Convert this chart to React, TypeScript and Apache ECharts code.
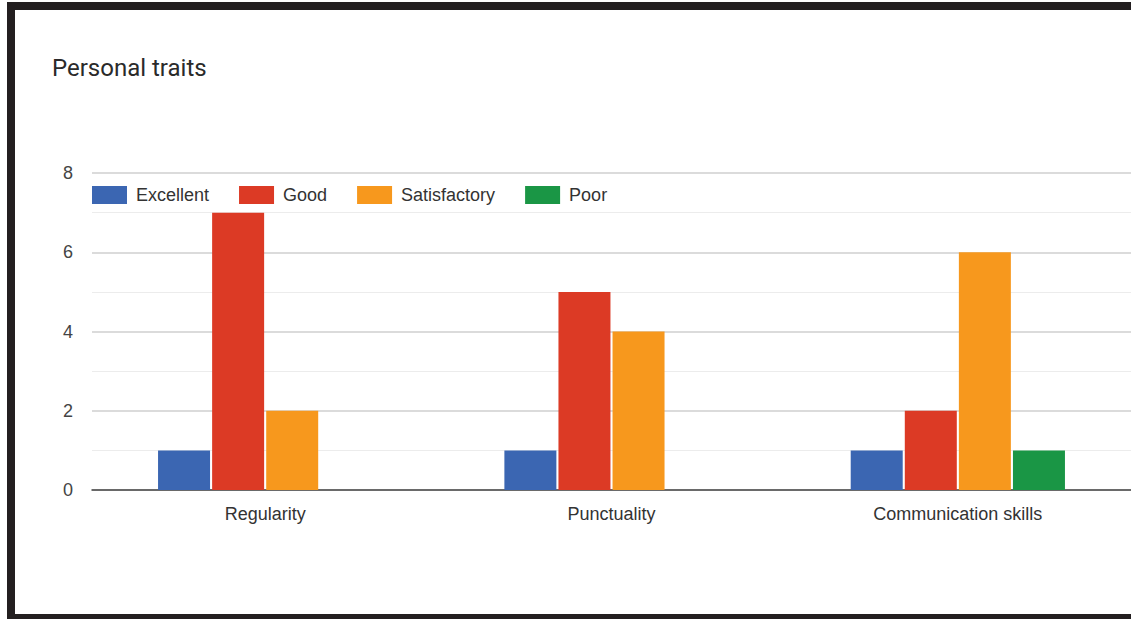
import React, { useEffect, useRef } from "react";
import * as echarts from "echarts";

const categories = ["Regularity", "Punctuality", "Communication skills"];
const seriesNames = ["Excellent", "Good", "Satisfactory", "Poor"];
const excellent = [1, 1, 1];
const good = [7, 5, 2];
const satisfactory = [2, 4, 6];
const poor = [0, 0, 1];
const colors = ["#3b66b2", "#dc3a25", "#f7981d", "#1a9645"];
const titleText = "Personal traits";

export default function App() {
  const ref = useRef<HTMLDivElement>(null);
  useEffect(() => {
    document.body.style.margin = "0";
    const chart = echarts.init(ref.current!, null, { renderer: "svg" });
    const values = [excellent, good, satisfactory, poor];
    const titleFont = "Roboto, 'Noto Sans', sans-serif";
    const font = "'Liberation Sans', Arial, sans-serif";
    chart.setOption({
      animation: false,
      backgroundColor: "#ffffff",
      color: colors,
      title: {
        text: titleText,
        left: 52,
        top: 56,
        padding: 0,
        textStyle: { fontFamily: titleFont, fontSize: 24, fontWeight: "normal", color: "#2a2a2a" },
      },
      legend: {
        left: 92,
        top: 186,
        padding: 0,
        itemWidth: 35,
        itemHeight: 18,
        itemGap: 30,
        icon: "rect",
        data: seriesNames,
        textStyle: { fontFamily: font, fontSize: 18, color: "#333", padding: [0, 0, 0, 4] },
      },
      grid: { left: 92, right: 0, top: 173, bottom: 129, containLabel: false },
      xAxis: {
        type: "category",
        data: categories,
        axisTick: { show: false },
        axisLine: { show: true, lineStyle: { color: "#444", width: 1.5 } },
        axisLabel: { fontFamily: font, fontSize: 18, color: "#333", margin: 15 },
      },
      yAxis: {
        type: "value",
        min: 0,
        max: 8,
        interval: 2,
        axisLine: { show: false },
        axisTick: { show: false },
        axisLabel: { fontFamily: font, fontSize: 18, color: "#444", margin: 19 },
        splitLine: { lineStyle: { color: "#cfcfcf", width: 1.5 } },
        minorTick: { show: false, splitNumber: 2 },
        minorSplitLine: { show: true, lineStyle: { color: "#ececec", width: 1 } },
      },
      series: seriesNames.map((name, i) => ({
        name,
        type: "bar",
        data: values[i],
        barWidth: 52,
        barGap: "4%",
        itemStyle: { color: colors[i] },
      })),
      graphic: [
        { type: "rect", shape: { x: 7, y: 2, width: 1124, height: 8 }, style: { fill: "#231f20" } },
        { type: "rect", shape: { x: 7, y: 2, width: 8, height: 617 }, style: { fill: "#231f20" } },
        { type: "rect", shape: { x: 7, y: 614, width: 1124, height: 5 }, style: { fill: "#231f20" } },
      ],
    });
    return () => chart.dispose();
  }, []);
  return (
    <div
      ref={ref}
      style={{ position: "fixed", left: 0, top: 0, width: 1131, height: 619 }}
    />
  );
}
